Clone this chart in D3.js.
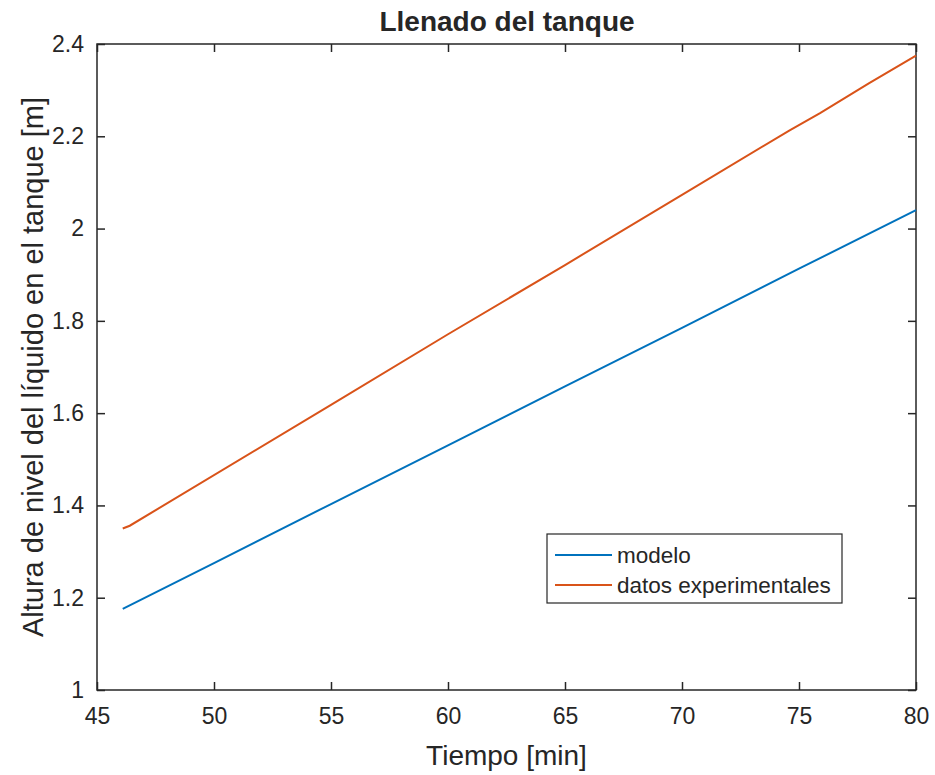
<!DOCTYPE html>
<html>
<head>
<meta charset="utf-8">
<script src="https://cdn.jsdelivr.net/npm/d3@7/dist/d3.min.js"></script>
<style>
  body { margin: 0; background: #fff; }
  svg text { font-family: "Liberation Sans", Arial, Helvetica, sans-serif; fill: #262626; }
</style>
</head>
<body>
<svg id="chart" width="935" height="775"></svg>
<script>
// tiempo [min] y altura [m]
const modeloT = [46.1, 50, 55, 60, 65, 70, 75, 80];
const modeloH = [1.176, 1.275, 1.403, 1.530, 1.658, 1.785, 1.913, 2.040];

const datosT = [46.1, 46.4, 55, 60, 65, 70, 74.6, 75.9, 78, 80];
const datosH = [1.350, 1.356, 1.618, 1.771, 1.921, 2.073, 2.213, 2.250, 2.315, 2.375];

const xTicks = [45, 50, 55, 60, 65, 70, 75, 80];
const yTicks = [1, 1.2, 1.4, 1.6, 1.8, 2, 2.2, 2.4];

const series = [
  { name: "modelo", t: modeloT, h: modeloH, color: "#0072BD" },
  { name: "datos experimentales", t: datosT, h: datosH, color: "#D95319" }
];

const svg = d3.select("#chart");
const m = { left: 97, right: 916, top: 44, bottom: 690 };

const x = d3.scaleLinear().domain([45, 80]).range([m.left, m.right]);
const y = d3.scaleLinear().domain([1, 2.4]).range([m.bottom, m.top]);

// caja de ejes
svg.append("rect")
  .attr("x", m.left).attr("y", m.top)
  .attr("width", m.right - m.left).attr("height", m.bottom - m.top)
  .attr("fill", "none").attr("stroke", "#262626").attr("stroke-width", 1.5);

const tickLen = 8;
const fmt = d => String(+d.toFixed(1));

// ejes con ticks hacia dentro en los cuatro lados
const axB = svg.append("g").attr("transform", `translate(0,${m.bottom})`)
  .call(d3.axisBottom(x).tickValues(xTicks).tickSizeInner(-tickLen).tickSizeOuter(0).tickPadding(18).tickFormat(fmt));
const axT = svg.append("g").attr("transform", `translate(0,${m.top})`)
  .call(d3.axisTop(x).tickValues(xTicks).tickSizeInner(-tickLen).tickSizeOuter(0).tickFormat(""));
const axL = svg.append("g").attr("transform", `translate(${m.left},0)`)
  .call(d3.axisLeft(y).tickValues(yTicks).tickSizeInner(-tickLen).tickSizeOuter(0).tickPadding(13).tickFormat(fmt));
const axR = svg.append("g").attr("transform", `translate(${m.right},0)`)
  .call(d3.axisRight(y).tickValues(yTicks).tickSizeInner(-tickLen).tickSizeOuter(0).tickFormat(""));

[axB, axT, axL, axR].forEach(g => {
  g.select(".domain").remove();
  g.selectAll(".tick line").attr("stroke", "#262626").attr("stroke-width", 1.5);
  g.selectAll("text").style("font-size", "23px").attr("fill", "#262626");
});

// lineas
const line = d3.line().x(d => x(d[0])).y(d => y(d[1]));
series.forEach(s => {
  svg.append("path")
    .datum(s.t.map((t, i) => [t, s.h[i]]))
    .attr("d", line)
    .attr("fill", "none")
    .attr("stroke", s.color)
    .attr("stroke-width", 2);
});

// titulo y etiquetas
svg.append("text")
  .attr("x", 507).attr("y", 31)
  .attr("text-anchor", "middle")
  .style("font-size", "28px").style("font-weight", "bold")
  .attr("fill", "#000")
  .text("Llenado del tanque");

svg.append("text")
  .attr("x", (m.left + m.right) / 2).attr("y", 765)
  .attr("text-anchor", "middle")
  .style("font-size", "28px")
  .text("Tiempo [min]");

svg.append("text")
  .attr("transform", `translate(43,${(m.top + m.bottom) / 2}) rotate(-90)`)
  .attr("text-anchor", "middle")
  .style("font-size", "29px")
  .text("Altura de nivel del líquido en el tanque [m]");

// leyenda
const lg = svg.append("g");
lg.append("rect")
  .attr("x", 547).attr("y", 534).attr("width", 295).attr("height", 69)
  .attr("fill", "#fff").attr("stroke", "#262626").attr("stroke-width", 1.2);
series.forEach((s, i) => {
  const yy = 555 + i * 30;
  lg.append("line").attr("x1", 555).attr("x2", 612).attr("y1", yy).attr("y2", yy)
    .attr("stroke", s.color).attr("stroke-width", 2);
  lg.append("text").attr("x", 617).attr("y", yy + 8)
    .style("font-size", "22.5px").text(s.name);
});
</script>
</body>
</html>
